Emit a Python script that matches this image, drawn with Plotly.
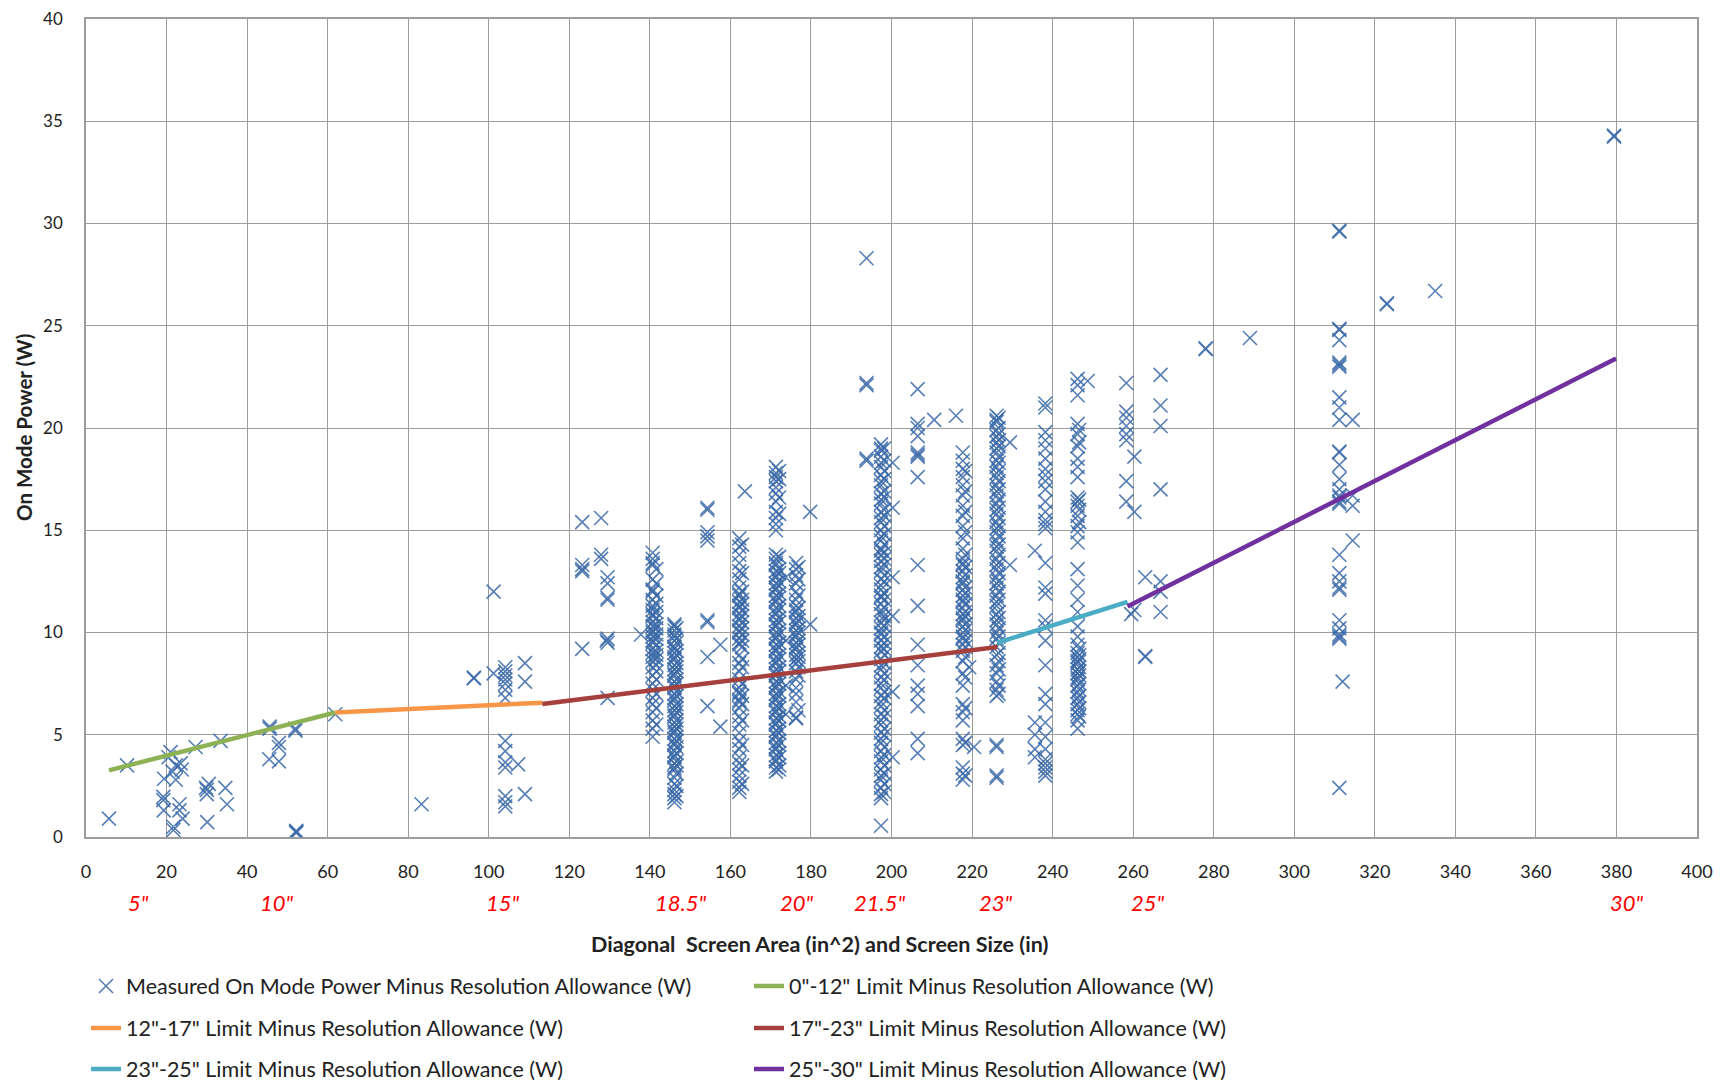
import plotly.graph_objects as go

# ---------------- data ----------------
# isolated measured points (diagonal screen area in^2, power W)
single_area = [5.7, 10.2, 21.0, 20.5, 19.4, 19.2, 19.2, 19.3, 21.7, 21.7, 22.3, 21.5, 23.5, 23.8, 22.3,
               23.2, 23.2, 24.0, 27.2, 30.0, 30.0, 29.8, 30.5, 30.1, 33.4, 34.6, 35.0, 45.6, 45.6, 47.9,
               47.9, 45.5, 47.9, 52.0, 52.0, 52.2, 52.2, 52.2, 61.9, 83.3, 96.3, 96.3, 101.2, 101.2,
               109.0, 109.0, 107.3, 109.0,
               123.2, 127.9, 123.2, 123.2, 123.2, 127.9, 127.9, 129.5, 129.5, 129.5, 129.5, 129.5, 129.5,
               129.3, 123.2, 129.5, 137.8,
               154.3, 154.3, 154.3, 154.3, 154.3, 154.3, 154.3, 154.3, 154.3, 157.5, 157.5, 163.6,
               173.8, 173.8, 173.8, 173.8, 179.8, 179.8,
               193.8, 193.8, 193.8, 193.8, 193.8, 200.3, 200.3, 200.3, 200.3, 200.3, 200.3, 197.4,
               206.5, 206.5, 206.5, 206.5, 206.5, 206.5, 206.5, 206.5, 206.5, 206.5, 206.5, 206.5,
               206.5, 206.5, 206.5, 206.5, 206.5, 210.6, 216.0, 219.3, 220.5, 229.4, 229.4,
               235.6, 235.6, 235.6, 235.6, 235.6, 248.7,
               258.3, 258.3, 258.3, 258.3, 258.3, 258.3, 258.3, 258.3, 260.3, 260.3, 260.3, 259.5,
               263.0, 263.0, 263.0, 266.8, 266.8, 266.8, 266.8, 266.8, 266.8, 266.8,
               278.0, 278.0, 289.0, 312.0, 314.5, 314.5, 314.5, 314.5, 323.0, 323.0, 335.0,
               379.4, 379.4]
single_power = [0.9, 3.5, 4.15, 3.9, 2.85, 1.96, 1.8, 1.3, 0.34, 0.5, 3.5, 3.2, 3.6, 3.3, 2.8,
                1.6, 1.3, 0.9, 4.4, 2.3, 2.1, 2.4, 2.6, 0.73, 4.7, 2.4, 1.6, 5.3, 5.4, 4.6,
                4.4, 3.8, 3.7, 5.3, 5.2, 0.2, 0.3, 0.25, 6.0, 1.6, 7.76, 7.8, 8.0, 12.0,
                8.5, 7.6, 3.55, 2.1,
                15.4, 15.6, 13.3, 13.1, 13.0, 13.8, 13.6, 12.7, 12.4, 11.6, 11.7, 9.7, 9.5,
                9.6, 9.2, 6.8, 9.9,
                16.0, 16.1, 14.9, 14.7, 14.5, 10.6, 10.5, 8.8, 6.4, 9.4, 5.4, 16.9,
                12.7, 9.6, 7.4, 6.0, 15.9, 10.4,
                28.3, 22.1, 22.2, 18.4, 18.5, 18.3, 16.1, 12.7, 10.8, 7.1, 3.9, 0.55,
                21.9, 20.2, 20.0, 19.6, 18.8, 18.7, 18.6, 17.6, 13.3, 11.3, 9.4, 8.4,
                7.4, 7.0, 6.4, 4.8, 4.1, 20.4, 20.6, 8.3, 4.4, 19.3, 13.3,
                14.0, 5.6, 5.0, 4.3, 3.9, 22.3,
                22.2, 20.8, 20.5, 20.1, 19.7, 19.4, 17.4, 16.4, 18.6, 15.9, 11.1, 10.9,
                12.7, 8.8, 8.85, 22.6, 21.1, 20.1, 17.0, 12.5, 12.0, 11.0,
                23.85, 23.9, 24.4, 7.6, 20.4, 16.7, 16.2, 14.5, 26.05, 26.1, 26.7,
                34.25, 34.3]

# dense columns of measurements: area of each column and its power values
column_area = [104.1, 140.7, 141.6, 146.1, 146.6, 162.2, 162.9, 171.3, 172.1, 176.3, 176.9,
               197.4, 198.2, 217.7, 218.3, 226.1, 226.6, 238.2, 246.2, 246.6, 311.2]
power_104 = [8.3, 8.1, 7.9, 7.7, 7.5, 7.2, 6.8, 4.7, 4.2, 3.65, 3.4, 2.0, 1.7, 1.5]
power_141 = [13.9, 13.6, 13.4, 13.3, 12.6, 12.1, 12.0, 11.6, 11.3, 11.1, 10.9, 10.8, 10.5, 10.3,
             10.1, 10.0, 9.8, 9.6, 9.5, 9.2, 9.0, 8.8, 8.6, 8.3, 7.9, 7.5, 7.2, 6.8, 6.5, 6.1,
             5.7, 5.3, 4.9]
power_141b = [13.1, 12.4, 11.8, 11.4, 11.0, 10.7, 10.4, 10.2, 9.9, 9.7, 9.4, 9.1, 8.9, 8.7, 8.4,
              8.1, 7.7, 7.0, 6.3, 5.5]
power_146 = [10.4, 10.3, 10.1, 9.9, 9.8, 9.6, 9.3, 9.2, 9.0, 8.8, 8.7, 8.4, 8.2, 8.0, 7.9, 7.6,
             7.4, 7.3, 7.0, 6.8, 6.7, 6.4, 6.2, 6.0, 5.9, 5.6, 5.4, 5.2, 5.1, 4.8, 4.6, 4.5,
             4.2, 4.0, 3.9, 3.6, 3.4, 3.3, 2.9, 2.6, 2.3, 2.1, 1.9, 1.7]
power_146b = [10.2, 9.7, 9.5, 9.1, 8.9, 8.5, 8.3, 8.1, 7.7, 7.5, 7.1, 6.9, 6.5, 6.3, 6.1, 5.7,
              5.5, 5.3, 4.9, 4.7, 4.4, 4.1, 3.7, 3.5, 3.1, 2.5, 2.0]
power_162 = [14.6, 14.2, 13.8, 13.4, 13.0, 12.6, 12.2, 11.9, 11.8, 11.5, 11.3, 11.2, 10.9, 10.7,
             10.6, 10.3, 10.1, 10.0, 9.7, 9.5, 9.4, 8.9, 8.5, 8.1, 7.7, 7.3, 7.1, 7.0, 6.7,
             6.6, 6.3, 5.9, 5.5, 5.1, 4.7, 4.3, 3.9, 3.6, 3.3, 3.0, 2.7, 2.4, 2.2]
power_162b = [14.3, 12.9, 12.0, 11.6, 11.4, 11.1, 10.8, 10.5, 10.2, 9.9, 9.6, 9.3, 8.7, 8.3, 7.5,
              6.9, 6.5, 5.7, 4.5, 3.5, 2.6]
power_171 = [18.1, 17.8, 17.6, 17.4, 17.1, 16.8, 16.4, 15.9, 15.6, 15.3, 15.0, 13.8, 13.6, 13.4,
             13.3, 13.0, 12.8, 12.7, 12.4, 12.2, 12.1, 11.8, 11.6, 11.5, 11.2, 11.0, 10.9,
             10.6, 10.4, 10.3, 10.0, 9.8, 9.7, 9.4, 9.2, 9.1, 8.8, 8.6, 8.5, 8.2, 8.0, 7.9,
             7.6, 7.4, 7.3, 7.0, 6.8, 6.7, 6.4, 6.2, 6.1, 5.8, 5.6, 5.5, 5.2, 5.0, 4.9, 4.6,
             4.4, 4.3, 4.0, 3.8, 3.7, 3.4, 3.2]
power_171b = [17.9, 17.5, 16.6, 15.8, 13.7, 13.1, 12.9, 12.5, 12.3, 11.9, 11.7, 11.3, 11.1, 10.7,
              10.5, 10.1, 9.9, 9.5, 9.3, 8.9, 8.7, 8.3, 8.1, 7.7, 7.5, 7.1, 6.9, 6.5, 6.3, 5.9,
              5.7, 5.3, 5.1, 4.7, 4.5, 4.1, 3.9, 3.5, 3.3]
power_176 = [13.4, 13.1, 12.8, 12.4, 12.0, 11.6, 11.3, 11.1, 11.0, 10.7, 10.5, 10.4, 10.1, 9.9,
             9.8, 9.5, 9.3, 9.2, 8.9, 8.7, 8.5, 8.1, 7.7, 7.3, 7.0, 6.6, 5.8, 5.85]
power_176b = [13.2, 12.6, 11.8, 11.2, 10.8, 10.6, 10.2, 10.0, 9.6, 9.4, 9.0, 8.8, 8.6, 8.3, 7.9, 6.2]
power_197 = [19.2, 19.0, 18.9, 18.6, 18.3, 18.1, 17.7, 17.4, 17.2, 16.8, 16.5, 16.3, 15.9, 15.6,
             15.4, 15.0, 14.7, 14.5, 14.1, 14.0, 13.8, 13.5, 13.2, 13.0, 12.6, 12.3, 12.1, 11.8,
             11.7, 11.4, 11.1, 10.9, 10.5, 10.2, 10.0, 9.9, 9.6, 9.3, 9.1, 8.7, 8.4, 8.2, 7.8,
             7.5, 7.3, 6.9, 6.6, 6.4, 6.0, 5.7, 5.5, 5.1, 4.8, 4.6, 4.2, 3.9, 3.7, 3.3, 3.0,
             2.8, 2.4, 2.1, 1.9]
power_197b = [19.0, 18.4, 17.9, 17.5, 16.9, 16.6, 16.0, 15.7, 15.2, 14.8, 14.3, 13.9, 13.6, 13.3,
              12.8, 12.5, 11.9, 11.6, 11.2, 10.8, 10.6, 10.3, 9.8, 9.5, 9.2, 8.9, 8.5, 8.0, 7.7,
              7.1, 6.8, 6.2, 5.9, 5.3, 5.0, 4.4, 4.0, 3.5, 3.1, 2.6, 2.2]
power_218 = [18.8, 18.4, 18.0, 17.6, 17.2, 16.7, 16.2, 15.7, 15.2, 14.6, 14.1, 13.6, 13.4, 13.3,
             13.0, 12.7, 12.5, 12.4, 12.1, 11.8, 11.6, 11.5, 11.2, 10.9, 10.7, 10.6, 10.3,
             10.0, 9.8, 9.7, 9.4, 9.1, 8.6, 8.0, 7.4, 6.5, 6.1, 5.7, 4.8, 4.5, 3.4, 3.1, 2.8]
power_218b = [17.9, 16.9, 15.9, 14.9, 13.8, 13.2, 12.8, 12.2, 11.9, 11.4, 11.0, 10.8, 10.4, 10.1,
              9.6, 9.3, 8.8, 7.8, 6.3, 4.6, 3.0]
power_226 = [20.6, 20.4, 20.3, 19.9, 19.6, 19.3, 19.0, 18.8, 18.4, 18.1, 17.8, 17.6, 17.2, 16.9,
             16.7, 16.3, 16.0, 15.8, 15.4, 15.1, 14.9, 14.5, 14.2, 14.0, 13.6, 13.3, 13.1, 12.7,
             12.4, 12.2, 11.8, 11.5, 11.3, 10.9, 10.6, 10.4, 10.0, 9.7, 9.3, 8.9, 8.4, 8.0,
             7.6, 7.2, 6.9, 4.5, 4.4, 3.0, 2.9]
power_226b = [20.5, 20.0, 19.7, 19.4, 19.1, 18.6, 18.3, 17.9, 17.4, 17.0, 16.5, 16.1, 15.6, 15.2,
              14.7, 14.3, 13.8, 13.4, 12.9, 12.5, 12.0, 11.6, 11.0, 10.7, 10.2, 9.8, 9.5, 9.0,
              8.6, 8.2, 7.4, 7.0]
power_238 = [21.2, 21.0, 19.8, 19.4, 19.0, 18.5, 18.0, 17.7, 17.4, 17.0, 16.4, 15.9, 15.5, 15.3,
             15.1, 13.4, 12.2, 11.9, 10.6, 10.3, 9.6, 8.4, 7.0, 6.5, 5.6, 4.9, 4.3, 3.8, 3.6,
             3.4, 3.2, 3.0]
power_246 = [22.4, 22.1, 21.6, 20.2, 19.7, 19.1, 18.5, 18.1, 17.6, 16.6, 16.4, 16.2, 15.7, 15.2,
             14.9, 14.4, 13.1, 12.3, 11.6, 11.0, 10.3, 9.8, 9.4, 9.0, 8.8, 8.6, 8.5, 8.2, 8.0,
             7.8, 7.7, 7.4, 7.1, 6.8, 6.5, 6.2, 6.0, 5.7, 5.3]
power_246b = [9.2, 8.9, 8.7, 8.3, 8.1, 7.9, 7.5, 7.2, 6.9, 6.6, 6.3, 5.9, 16.5, 16.0, 15.4, 19.9, 19.3]
power_311 = [29.6, 29.65, 24.8, 24.85, 24.3, 23.2, 23.1, 23.0, 21.5, 21.0, 20.4, 18.8, 18.85, 18.2,
             17.5, 17.0, 16.7, 16.6, 16.4, 16.3, 13.8, 12.9, 12.5, 12.2, 12.1, 10.6, 10.2, 9.9,
             9.8, 9.7, 2.4]
column_power = [power_104, power_141, power_141b, power_146, power_146b, power_162, power_162b,
                power_171, power_171b, power_176, power_176b, power_197, power_197b,
                power_218, power_218b, power_226, power_226b, power_238, power_246, power_246b,
                power_311]

# limit-minus-allowance segments (area, W)
limit_0_12_area = [5.7, 61.9]
limit_0_12_power = [3.26, 6.09]
limit_12_17_area = [61.9, 113.3]
limit_12_17_power = [6.09, 6.57]
limit_17_23_area = [113.3, 226.3]
limit_17_23_power = [6.5, 9.29]
limit_23_25_area = [226.3, 258.6]
limit_23_25_power = [9.5, 11.5]
limit_25_30_area = [258.6, 379.9]
limit_25_30_power = [11.27, 23.4]

size_labels = ['5"', '10"', '15"', '18.5"', '20"', '21.5"', '23"', '25"', '30"']
size_label_area = [13.0, 47.3, 103.6, 147.6, 176.5, 197.1, 226.0, 263.6, 382.7]

# ---------------- build ----------------
meas_x = list(single_area)
meas_y = list(single_power)
for a, plist in zip(column_area, column_power):
    meas_x += [a] * len(plist)
    meas_y += plist

FONT = "Lato"
TXT = "#222222"
W, H = 1728, 1077  # page body has an 8px margin
L, R, T, B = 78, 39, 11, 248
fig = go.Figure()

fig.add_trace(go.Scatter(
    x=meas_x, y=meas_y, mode="markers",
    name="Measured On Mode Power Minus Resolution Allowance (W)",
    marker=dict(symbol="x-thin", size=14, color="rgba(58,104,168,0.85)",
                line=dict(width=1.6, color="rgba(58,104,168,0.85)")),
    legend="legend"))

lines = [
    ("0\"-12\" Limit Minus Resolution Allowance (W)", limit_0_12_area, limit_0_12_power, "#8DB255", "legend"),
    ("12\"-17\" Limit Minus Resolution Allowance (W)", limit_12_17_area, limit_12_17_power, "#F79646", "legend2"),
    ("17\"-23\" Limit Minus Resolution Allowance (W)", limit_17_23_area, limit_17_23_power, "#A6403D", "legend2"),
    ("23\"-25\" Limit Minus Resolution Allowance (W)", limit_23_25_area, limit_23_25_power, "#4BACC6", "legend3"),
    ("25\"-30\" Limit Minus Resolution Allowance (W)", limit_25_30_area, limit_25_30_power, "#7030A0", "legend3"),
]
for name, xs, ys, col, lg in lines:
    fig.add_trace(go.Scatter(x=xs, y=ys, mode="lines", name=name,
                             line=dict(color=col, width=4.5), legend=lg))

plot_h = H - T - B
plot_w = W - L - R
def py(pix_below_axis):
    # paper y for a position given in pixels below the x axis
    return -pix_below_axis / plot_h

for lab, a in zip(size_labels, size_label_area):
    fig.add_annotation(x=a, y=py(65), xref="x", yref="paper", text=lab, showarrow=False,
                       font=dict(family=FONT, size=22, color="#FF0000", style="italic"),
                       xanchor="center", yanchor="middle")

fig.add_annotation(x=0.4556, y=py(107), xref="paper", yref="paper",
                   text="<b>Diagonal  Screen Area (in^2) and Screen Size (in)</b>", showarrow=False,
                   font=dict(family=FONT, size=21.5, color=TXT), xanchor="center", yanchor="middle")
fig.add_annotation(x=(16 - L) / plot_w, y=0.5, xref="paper", yref="paper",
                   text="<b>On Mode Power (W)</b>", showarrow=False, textangle=-90,
                   font=dict(family=FONT, size=20.5, color=TXT), xanchor="center", yanchor="middle")

legend_common = dict(orientation="h", xanchor="left", yanchor="middle",
                     xref="container", yref="container", x=78 / W,
                     entrywidth=618, entrywidthmode="pixels", bgcolor="rgba(0,0,0,0)",
                     font=dict(family=FONT, size=21.5, color=TXT), traceorder="normal")

fig.update_layout(
    width=W, height=H,
    margin=dict(l=L, r=R, t=T, b=B, autoexpand=False),
    paper_bgcolor="white", plot_bgcolor="white",
    font=dict(family=FONT, size=17, color=TXT),
    xaxis=dict(range=[0, 400], dtick=20, tick0=0, showgrid=True, gridcolor="#9C9C9C", gridwidth=1.2,
               showline=True, linecolor="#9C9C9C", linewidth=1.5, mirror=True, zeroline=False,
               ticks="", ticklabelstandoff=18, automargin=False, ticklabeloverflow="allow",
               tickfont=dict(family=FONT, size=18, color=TXT)),
    yaxis=dict(range=[0, 40], dtick=5, tick0=0, showgrid=True, gridcolor="#9C9C9C", gridwidth=1.2,
               showline=True, linecolor="#9C9C9C", linewidth=1.5, mirror=True, zeroline=False,
               ticks="", ticklabelstandoff=18, automargin=False, ticklabeloverflow="allow",
               tickfont=dict(family=FONT, size=17, color=TXT)),
    legend=dict(y=1 - 978 / H, **legend_common),
    legend2=dict(y=1 - 1020 / H, **legend_common),
    legend3=dict(y=1 - 1061 / H, **legend_common),
    showlegend=True,
)

fig.write_html("out.html")
